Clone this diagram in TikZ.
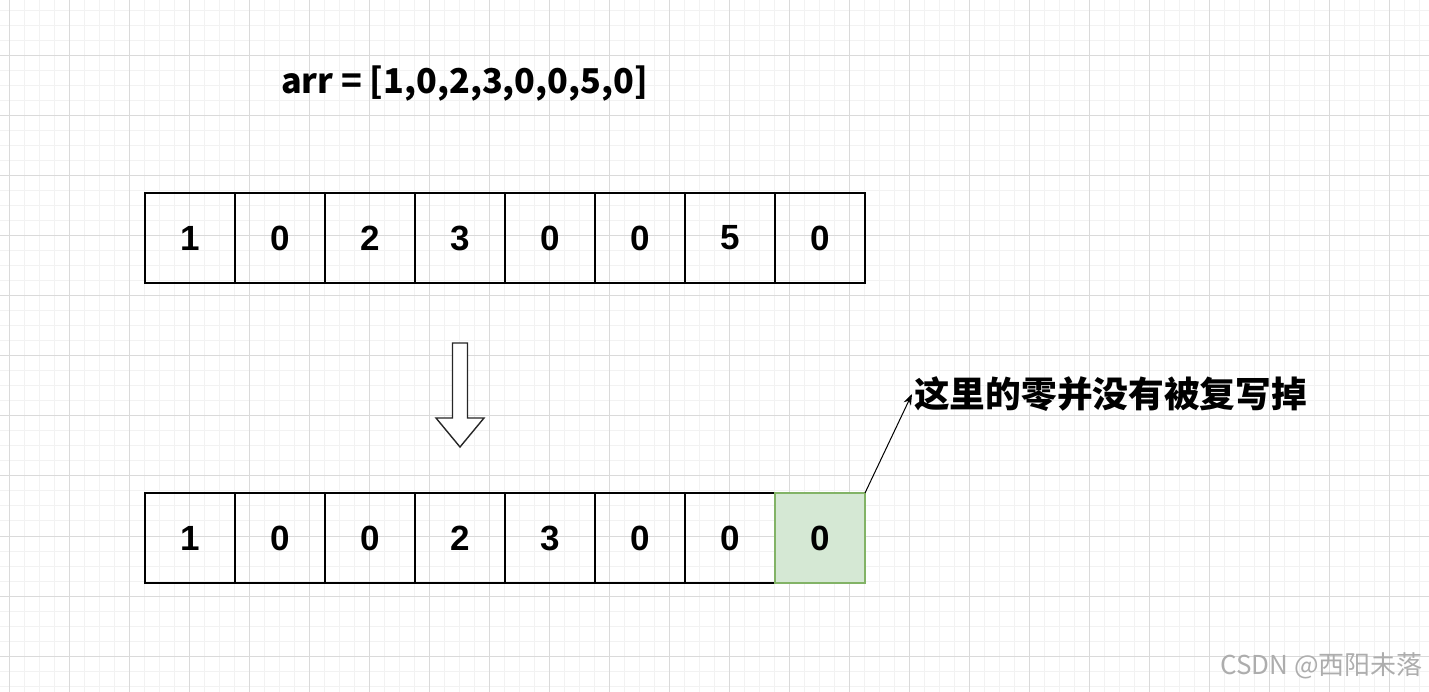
\documentclass[tikz,border=0pt]{standalone}
\usepackage{fontspec}
\usepackage{tikz}
\usetikzlibrary{arrows.meta, positioning, calc}
\setmainfont{Liberation Sans}
\newfontfamily\cjkfont{Noto Sans CJK SC}
\definecolor{gridminor}{HTML}{F2F2F2}
\definecolor{gridmajor}{HTML}{DADADA}
\definecolor{hitfill}{HTML}{D5E8D4}
\definecolor{hitdraw}{HTML}{82B366}
\begin{document}
\begin{tikzpicture}[
    x=1pt, y=1pt,
    node distance=0pt,
    cell_node/.style={rectangle, draw=black, line width=1.2pt, minimum width=90pt, minimum height=90pt, inner sep=0pt, outer sep=0pt, font=\fontsize{35}{38}\selectfont\bfseries},
    hit_node/.style={cell_node, fill=hitfill, draw=hitdraw},
    title_node/.style={inner sep=0pt, font=\cjkfont\fontsize{34.2}{38}\selectfont\bfseries},
    note_node/.style={inner sep=2pt, font=\cjkfont\fontsize{35.7}{40}\selectfont\bfseries},
    mark_node/.style={inner sep=0pt, text=black!32, font=\cjkfont\fontsize{26}{30}\selectfont},
    block_arrow/.style={draw=black!85, line width=1.4pt, fill=white, line join=miter},
    arrow/.style={-{Stealth[length=11pt, width=8pt]}, line width=1pt, draw=black}
]
\useasboundingbox (0,0) rectangle (1429,691);

% Grid
\begin{scope}
\clip (0,0) rectangle (1429,691);
\draw[gridminor, line width=1pt, shift={(9.5,5)}] (-15,-15) grid[step=15pt] (1440,705);
\draw[gridmajor, line width=1pt, shift={(9.5,35)}] (-60,-60) grid[step=60pt] (1440,720);
\end{scope}

\node[title_node] (title) at (464.5,607) {arr = [1,0,2,3,0,0,5,0]};

% Before
\node[cell_node] (top1) at (190,453) {1};
\node[cell_node, right=of top1] (top2) {0};
\node[cell_node, right=of top2] (top3) {2};
\node[cell_node, right=of top3] (top4) {3};
\node[cell_node, right=of top4] (top5) {0};
\node[cell_node, right=of top5] (top6) {0};
\node[cell_node, right=of top6] (top7) {5};
\node[cell_node, right=of top7] (top8) {0};

% After
\node[cell_node, below=210pt of top1] (bot1) {1};
\node[cell_node, right=of bot1] (bot2) {0};
\node[cell_node, right=of bot2] (bot3) {0};
\node[cell_node, right=of bot3] (bot4) {2};
\node[cell_node, right=of bot4] (bot5) {3};
\node[cell_node, right=of bot5] (bot6) {0};
\node[cell_node, right=of bot6] (bot7) {0};
\node[hit_node, right=of bot7] (bot8) {0};

% Down arrow
\coordinate (arrow_top) at ($(top4.south)+(0,-60)$);
\draw[block_arrow] (arrow_top) ++(-7.5,0) -- ++(0,-75) -- ++(-16.5,0) -- ++(24,-29) -- ++(24,29) -- ++(-16.5,0) -- ++(0,75) -- cycle;

% Note
\node[note_node, anchor=west] (note) at (912,297) {这里的零并没有被复写掉};
\draw[arrow] (bot8.north east) -- (note.west);

\node[mark_node, anchor=base east] (mark) at (1423,17) {CSDN @西阳未落};

\end{tikzpicture}
\end{document}
